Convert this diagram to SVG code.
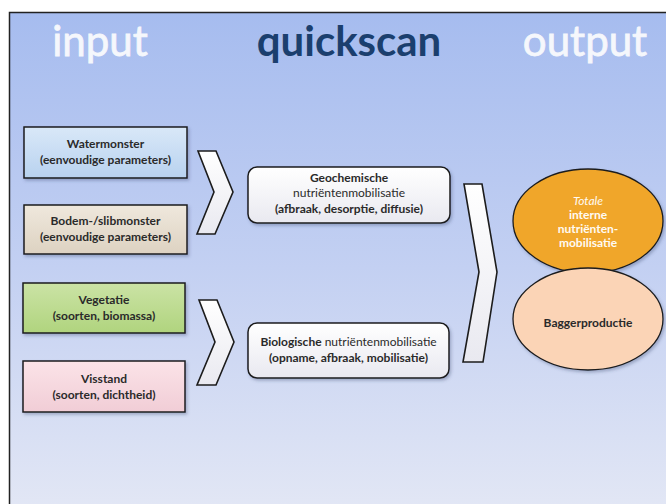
<svg xmlns="http://www.w3.org/2000/svg" width="666" height="504" viewBox="0 0 666 504">
<defs>
<linearGradient id="bg" x1="0" y1="0" x2="0" y2="1">
<stop offset="0" stop-color="#a6bcef"/>
<stop offset="0.5" stop-color="#c3d0f2"/>
<stop offset="1" stop-color="#e4e8f5"/>
</linearGradient>
<linearGradient id="gBlue" x1="0" y1="0" x2="0" y2="1"><stop offset="0" stop-color="#d9e8f8"/><stop offset="1" stop-color="#b8d2ef"/></linearGradient>
<linearGradient id="gBeige" x1="0" y1="0" x2="0" y2="1"><stop offset="0" stop-color="#efe8dd"/><stop offset="1" stop-color="#ddd2c1"/></linearGradient>
<linearGradient id="gGreen" x1="0" y1="0" x2="0" y2="1"><stop offset="0" stop-color="#cbe3a5"/><stop offset="1" stop-color="#b0d47e"/></linearGradient>
<linearGradient id="gPink" x1="0" y1="0" x2="0" y2="1"><stop offset="0" stop-color="#fbe3e8"/><stop offset="1" stop-color="#f1cdd6"/></linearGradient>
<linearGradient id="gWhite" x1="0" y1="0" x2="0" y2="1"><stop offset="0" stop-color="#ffffff"/><stop offset="1" stop-color="#e9e9f0"/></linearGradient>
<filter id="sh" x="-10%" y="-10%" width="125%" height="130%">
<feDropShadow dx="1.5" dy="2" stdDeviation="1.5" flood-color="#3a4a70" flood-opacity="0.35"/>
</filter>
</defs>
<style>
.ttl{font-family:Lato,"Open Sans",sans-serif;font-size:42px;text-anchor:middle}
.lt{fill:#f5f7fc;stroke:#f5f7fc;stroke-width:0.8}
.t{font-family:Lato,"Open Sans",sans-serif;font-size:12px;font-weight:bold;fill:#2a2a2a;text-anchor:middle}
.n{font-weight:normal}
.w{fill:#fffaf2}
.box{stroke:#1c1c1c;stroke-width:1.5}
.chev{fill:url(#gWhite);stroke:#1c1c1c;stroke-width:1.6;stroke-linejoin:miter}
.ell{stroke:#1c1c1c;stroke-width:1.3}
</style>
<rect x="0" y="0" width="666" height="504" fill="#ffffff"/>
<rect x="9.5" y="12.5" width="670" height="510" fill="url(#bg)" stroke="#222" stroke-width="1.5"/>

<g id="titles">
<text class="ttl lt" x="100" y="56">input</text>
<text class="ttl" x="349" y="56" fill="#1b3f6e" font-weight="bold">quickscan</text>
<text class="ttl lt" x="585" y="56">output</text>
</g>

<g id="watermonster">
<rect class="box" x="24" y="127" width="163" height="51" fill="url(#gBlue)" filter="url(#sh)"/>
<text class="t" x="105.5" y="148">Watermonster</text>
<text class="t" x="105.5" y="164">(eenvoudige parameters)</text>
</g>
<g id="bodem">
<rect class="box" x="24" y="205" width="163" height="49" fill="url(#gBeige)" filter="url(#sh)"/>
<text class="t" x="105.5" y="225">Bodem-/slibmonster</text>
<text class="t" x="105.5" y="241">(eenvoudige parameters)</text>
</g>
<g id="vegetatie">
<rect class="box" x="23" y="283" width="162" height="50" fill="url(#gGreen)" filter="url(#sh)"/>
<text class="t" x="104" y="304">Vegetatie</text>
<text class="t" x="104" y="320">(soorten, biomassa)</text>
</g>
<g id="visstand">
<rect class="box" x="23" y="361" width="162" height="51" fill="url(#gPink)" filter="url(#sh)"/>
<text class="t" x="104" y="383">Visstand</text>
<text class="t" x="104" y="399">(soorten, dichtheid)</text>
</g>

<g id="connectors">
<polygon class="chev" points="198,151 216,151 233,192 215,234 197,234 214,192"/>
<polygon class="chev" points="199,300 217,300 234,342 216,385 197,385 215,342"/>
<polygon class="chev" points="464,184 482,184 497,272 483,362 463,362 479,272"/>
</g>

<g id="geochemisch">
<rect class="box" x="248" y="167" width="202" height="56" rx="9" fill="url(#gWhite)" filter="url(#sh)"/>
<text class="t" x="349" y="182">Geochemische</text>
<text class="t n" x="349" y="197">nutriëntenmobilisatie</text>
<text class="t" x="349" y="213">(afbraak, desorptie, diffusie)</text>
</g>
<g id="biologisch">
<rect class="box" x="248" y="323" width="201" height="55" rx="9" fill="url(#gWhite)" filter="url(#sh)"/>
<text class="t" x="348.5" y="346">Biologische<tspan class="n"> nutriëntenmobilisatie</tspan></text>
<text class="t" x="348.5" y="362">(opname, afbraak, mobilisatie)</text>
</g>

<g id="totale">
<ellipse class="ell" cx="588" cy="221" rx="75" ry="52" fill="#f0a62a" filter="url(#sh)"/>
<text class="t w n" x="588" y="205" font-style="italic">Totale</text>
<text class="t w" x="588" y="219">interne</text>
<text class="t w" x="588" y="233">nutriënten-</text>
<text class="t w" x="588" y="247">mobilisatie</text>
</g>
<g id="bagger">
<ellipse class="ell" cx="588" cy="319" rx="75" ry="51" fill="#fbd4b6" filter="url(#sh)"/>
<text class="t" x="588" y="327">Baggerproductie</text>
</g>
</svg>
